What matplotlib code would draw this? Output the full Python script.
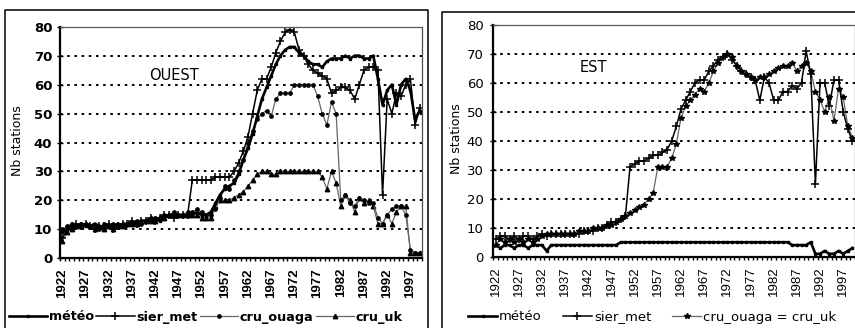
import matplotlib
matplotlib.use('Agg')
import matplotlib.pyplot as plt
from matplotlib.lines import Line2D

years = list(range(1922, 2000))
label_years = list(range(1922, 2000, 5))
y_ticks = list(range(0, 90, 10))

# OUEST (4 series)
ouest_meteo = [9, 10, 11, 11, 12, 11, 11, 12, 11, 10,
               11, 11, 12, 11, 12, 12, 12, 13, 13, 13,
               14, 13, 14, 15, 15, 15, 15, 15, 15, 16,
               15, 15, 16, 19, 22, 24, 25, 26, 29, 34,
               38, 43, 49, 55, 59, 63, 67, 70, 72, 73,
               73, 71, 70, 68, 67, 67, 66, 68, 69, 69,
               69, 70, 69, 70, 70, 69, 69, 70, 62, 53,
               58, 60, 53, 60, 62, 58, 48, 51]
ouest_sier = [7, 10, 11, 12, 11, 12, 11, 10, 11, 11,
              12, 10, 11, 12, 12, 13, 12, 13, 13, 14,
              13, 14, 15, 15, 14, 15, 15, 15, 27, 27,
              27, 27, 27, 28, 28, 28, 28, 30, 33, 37,
              42, 50, 58, 62, 62, 66, 71, 75, 78, 79,
              78, 72, 70, 67, 65, 64, 63, 62, 57, 58,
              59, 59, 58, 55, 60, 65, 66, 66, 65, 22,
              55, 50, 57, 56, 60, 62, 46, 52]
ouest_ouaga = [10, 11, 12, 11, 12, 12, 11, 11, 10, 12,
               11, 12, 11, 12, 12, 12, 13, 12, 13, 14,
               14, 14, 15, 15, 16, 15, 15, 16, 16, 17,
               16, 15, 15, 17, 21, 25, 24, 27, 30, 34,
               40, 44, 48, 50, 51, 49, 55, 57, 57, 57,
               60, 60, 60, 60, 60, 56, 50, 46, 54, 50,
               20, 22, 19, 18, 21, 20, 19, 19, 14, 12,
               15, 17, 18, 18, 15, 3, 2, 2]
ouest_uk = [6, 9, 10, 11, 11, 12, 11, 10, 11, 10,
            11, 10, 11, 11, 12, 12, 12, 13, 13, 13,
            13, 14, 14, 15, 15, 15, 15, 15, 15, 15,
            14, 14, 14, 18, 20, 20, 20, 21, 22, 23,
            25, 27, 29, 30, 30, 29, 29, 30, 30, 30,
            30, 30, 30, 30, 30, 30, 28, 24, 30, 26,
            18, 22, 20, 16, 21, 19, 20, 18, 12, 12,
            15, 12, 16, 18, 18, 2, 2, 2]

# EST (3 series)
est_meteo = [4, 3, 4, 4, 3, 4, 4, 3, 4, 4,
             4, 2, 4, 4, 4, 4, 4, 4, 4, 4,
             4, 4, 4, 4, 4, 4, 4, 5, 5, 5,
             5, 5, 5, 5, 5, 5, 5, 5, 5, 5,
             5, 5, 5, 5, 5, 5, 5, 5, 5, 5,
             5, 5, 5, 5, 5, 5, 5, 5, 5, 5,
             5, 5, 5, 5, 4, 4, 4, 4, 5, 1,
             1, 2, 1, 1, 2, 1, 2, 3]
est_sier = [6, 7, 7, 6, 7, 6, 7, 7, 6, 7,
            8, 7, 8, 8, 8, 8, 8, 8, 8, 9,
            9, 9, 10, 10, 11, 12, 12, 13, 14, 31,
            32, 33, 33, 34, 35, 35, 36, 37, 40, 45,
            51, 54, 57, 60, 61, 61, 64, 66, 68, 69,
            70, 68, 66, 64, 63, 62, 61, 54, 62, 60,
            54, 54, 57, 57, 59, 58, 60, 71, 63, 25,
            60, 60, 52, 61, 61, 50, 44, 40]
est_cru = [4, 6, 5, 6, 5, 6, 5, 6, 5, 6,
           7, 8, 8, 8, 8, 8, 8, 8, 9, 9,
           9, 10, 10, 10, 11, 11, 12, 13, 14, 15,
           16, 17, 18, 20, 22, 31, 31, 31, 34, 39,
           48, 52, 54, 56, 58, 57, 60, 64, 67, 69,
           70, 69, 66, 64, 63, 62, 61, 62, 62, 63,
           64, 65, 66, 66, 67, 64, 66, 67, 64, 57,
           54, 50, 55, 47, 58, 55, 45, 41]

W, H = 855, 328
fig = plt.figure(figsize=(W / 100, H / 100), dpi=100)


def box(x0, y0, x1, y1):
    # pixel box from the top-left corner -> figure fractions
    return [x0 / W, 1 - y1 / H, (x1 - x0) / W, (y1 - y0) / H]


def setup(ax, weight, ypad, label_x):
    ax.set_xlim(1921.5, 1999.5)
    ax.set_ylim(0, 80)
    ax.set_yticks(y_ticks)
    ax.set_yticklabels([str(v) for v in y_ticks], fontsize=9.5, fontweight=weight)
    ax.set_xticks(label_years)
    ax.set_xticklabels([str(y) for y in label_years], rotation=90,
                       family='Liberation Sans', fontsize=9.5, fontweight=weight)
    ax.set_xticks([y - 0.5 for y in years] + [1999.5], minor=True)
    ax.tick_params(axis='x', which='major', length=0, pad=7)
    ax.tick_params(axis='x', which='minor', length=2.5, width=1, direction='out')
    ax.tick_params(axis='y', direction='inout', length=4, width=1, pad=ypad)
    for v in y_ticks[1:-1]:
        ax.axhline(v, color='black', lw=1.4, ls=(0, (1.3, 2.4)), zorder=0)
    ax.spines['left'].set_linewidth(1.6)
    ax.spines['bottom'].set_linewidth(1.6)
    ax.spines['top'].set_linestyle((0, (1, 1)))
    ax.spines['top'].set_color('0.35')
    ax.spines['top'].set_linewidth(0.9)
    ax.spines['right'].set_color('0.3')
    ax.spines['right'].set_linewidth(0.9)
    ax.set_ylabel('Nb stations', fontsize=9)
    ax.yaxis.set_label_coords(label_x, 0.51)


ax1 = fig.add_axes(box(60, 26.7, 422, 258.3))
ax2 = fig.add_axes(box(493.3, 25, 854.8, 256.7))
setup(ax1, 'bold', 3.5, -0.10)
setup(ax2, 'normal', 5, -0.085)

# OUEST
h1 = ax1.plot(years, ouest_uk, color='0.4', lw=0.9, marker='^', ms=3.2, mfc='black', mec='black', label='cru_uk')[0]
h2 = ax1.plot(years, ouest_ouaga, color='0.4', lw=0.9, marker='o', ms=2.4, mfc='black', mec='black', label='cru_ouaga')[0]
h3 = ax1.plot(years, ouest_sier, color='black', lw=1.1, marker='+', ms=6, mew=1.1, label='sier_met')[0]
h4 = ax1.plot(years, ouest_meteo, color='black', lw=1.9, marker='s', ms=2, label='météo')[0]
ax1.text(1946, 63.3, 'OUEST', ha='center', va='center', fontsize=10.5)

fig.legend([h4, h3, h2, h1], ['météo', 'sier_met', 'cru_ouaga', 'cru_uk'],
           loc='center left', bbox_to_anchor=(9 / W, 1 - 317 / H), ncol=4,
           frameon=False, prop={'size': 9.2, 'weight': 'bold'}, handlelength=3.0,
           handletextpad=0.15, columnspacing=0.15, borderpad=0, borderaxespad=0)

# EST
g1 = ax2.plot(years, est_cru, color='0.4', lw=0.9, marker='*', ms=3.8, mfc='black', mec='black', label='cru_ouaga = cru_uk')[0]
g2 = ax2.plot(years, est_sier, color='black', lw=1.1, marker='+', ms=6, mew=1.1, label='sier_met')[0]
g3 = ax2.plot(years, est_meteo, color='black', lw=1.9, marker='s', ms=1.5, label='météo')[0]
ax2.text(1943.2, 65.2, 'EST', ha='center', va='center', fontsize=10.5)

fig.legend([g3, g2, g1], ['météo', 'sier_met', 'cru_ouaga = cru_uk'],
           loc='center left', bbox_to_anchor=(468 / W, 1 - 317 / H), ncol=3,
           frameon=False, prop={'size': 9.5}, handlelength=2.2,
           handletextpad=0.15, columnspacing=1.6, borderpad=0, borderaxespad=0)

# outer frames around each chart
for xs, ys in [([5, 5, 428, 428], [340, 10, 10, 340]),
               ([442, 442, 870], [340, 11.7, 11.7])]:
    fig.add_artist(Line2D([x / W for x in xs], [1 - y / H for y in ys],
                          transform=fig.transFigure, color='black', lw=1.1))

fig.savefig('out.png', dpi=100)
